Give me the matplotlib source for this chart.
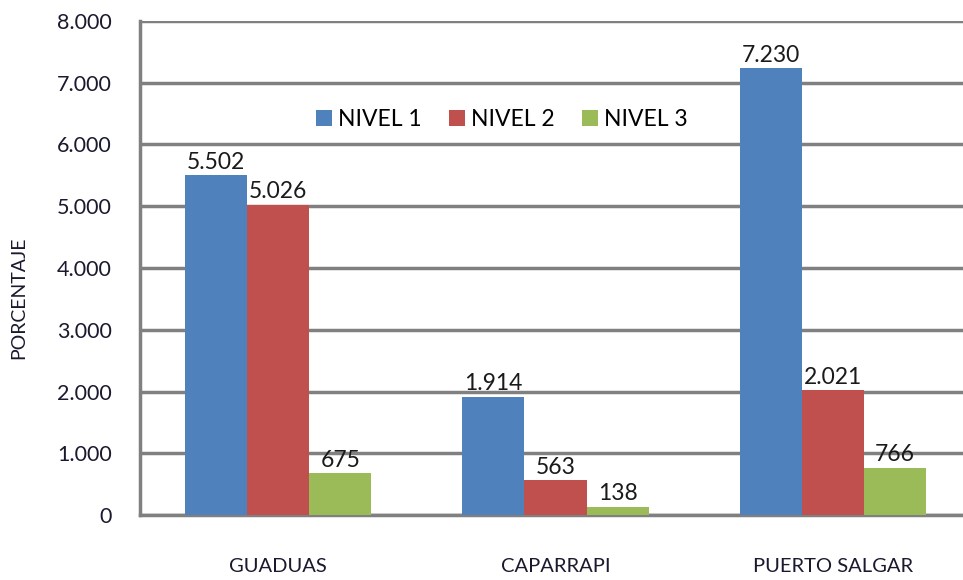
import matplotlib
matplotlib.use('Agg')
import matplotlib.pyplot as plt
import numpy as np
from matplotlib.ticker import FuncFormatter

municipios = ['GUADUAS', 'CAPARRAPI', 'PUERTO SALGAR']
series = ['NIVEL 1', 'NIVEL 2', 'NIVEL 3']
nivel1 = [5502, 1914, 7230]
nivel2 = [5026, 563, 2021]
nivel3 = [675, 138, 766]
colores = ['#4F81BD', '#C0504D', '#9BBB59']

plt.rcParams['font.family'] = ['Lato', 'DejaVu Sans']

def miles(v):
    return f'{int(v):,}'.replace(',', '.')

fig = plt.figure(figsize=(9.63, 5.80), dpi=100)
ax = fig.add_axes([0.145, 0.112, 0.855, 0.852])

x = np.arange(len(municipios))
w = 0.224
for i, (vals, nom) in enumerate(zip([nivel1, nivel2, nivel3], series)):
    pos = x + (i - 1) * w
    bars = ax.bar(pos, vals, w, color=colores[i], label=nom, zorder=3)
    for xp, v in zip(pos, vals):
        ax.text(xp, v + 40, miles(v), ha='center', va='bottom',
                fontsize=16.5, color='#1a1a1a', zorder=4)

ax.set_xlim(-0.5, 2.47)
ax.set_ylim(0, 8000)
ax.set_yticks(np.arange(0, 8001, 1000))
ax.yaxis.set_major_formatter(FuncFormatter(lambda v, p: miles(v)))
ax.set_xticks(x)
ax.set_xticklabels(municipios, fontsize=14.5)
ax.grid(axis='y', color='#808080', linewidth=2.5, zorder=0)
for s in ['top', 'right']:
    ax.spines[s].set_visible(False)
for s in ['left', 'bottom']:
    ax.spines[s].set_color('#808080')
    ax.spines[s].set_linewidth(2.5)
ax.tick_params(axis='both', length=0, colors='#1a1a2e')
ax.tick_params(axis='y', pad=20, labelsize=15.5)
ax.tick_params(axis='x', pad=31)
ax.set_ylabel('PORCENTAJE', fontsize=14, color='#1a1a2e')
ax.yaxis.set_label_coords(-0.137, 0.44)

ax.legend(loc='center', bbox_to_anchor=(0.44, 0.80), ncol=3, frameon=False,
          fontsize=16.5, handlelength=0.7, handleheight=0.7, handletextpad=0.25,
          columnspacing=1.2)

fig.savefig('out.png', dpi=100)
